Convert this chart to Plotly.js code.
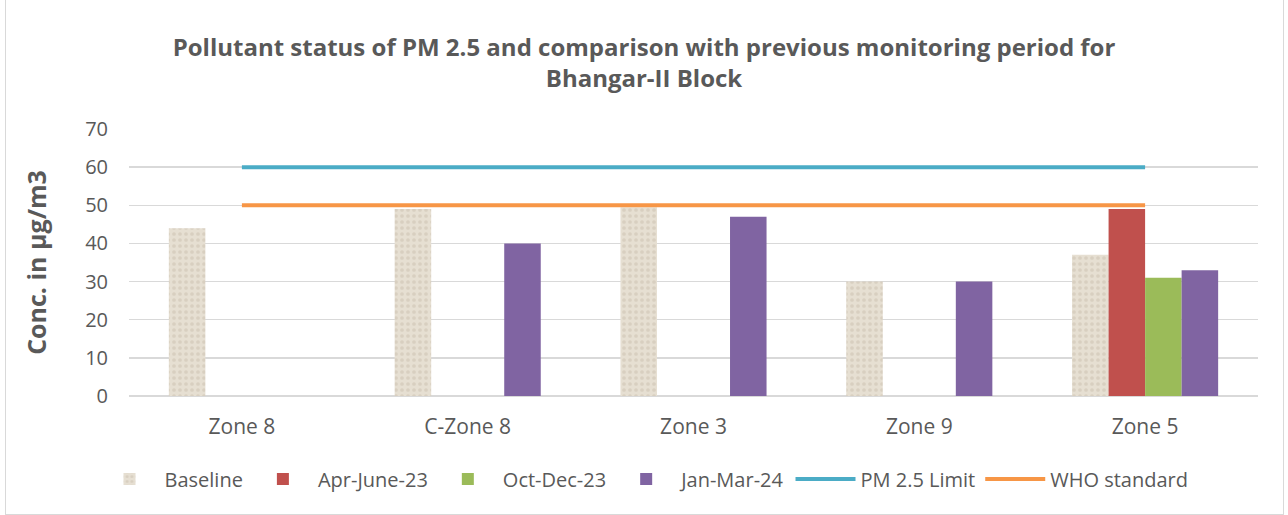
<!DOCTYPE html>
<html>
<head>
<meta charset="utf-8">
<script src="https://cdn.plot.ly/plotly-3.0.1.min.js"></script>
<style>
  html, body { margin: 0; padding: 0; background: #fff; }
  #wrap { position: relative; width: 1288px; height: 515px; }
  #chart { width: 1288px; height: 515px; }
  #frame { position: absolute; left: 5px; top: -2px; width: 1279px; height: 517px; border: 1.5px solid #d9d9d9; pointer-events: none; box-sizing: border-box; }
</style>
</head>
<body>
<div id="wrap"><div id="chart"></div><div id="frame"></div></div>
<script>
const zones = ["Zone 8", "C-Zone 8", "Zone 3", "Zone 9", "Zone 5"];
const baseline = [44, 49, 49.5, 30, 37];
const aprJun23 = [null, null, null, null, 49];
const octDec23 = [null, null, null, null, 31];
const janMar24 = [null, 40, 47, 30, 33];
const pmLimit = [60, 60, 60, 60, 60];
const whoStandard = [50, 50, 50, 50, 50];
const yTicks = [0, 10, 20, 30, 40, 50, 60, 70];

const fontFam = "'Open Sans', Lato, sans-serif";
const grey = "#595959";

const traces = [
  { type: "bar", name: "Baseline", x: zones, y: baseline,
    marker: { color: "#e4dccf", pattern: { shape: ".", bgcolor: "#e6dfd2", fgcolor: "#d8cfc0", size: 6, solidity: 0.3 } } },
  { type: "bar", name: "Apr-June-23", x: zones, y: aprJun23, marker: { color: "#c0504d" } },
  { type: "bar", name: "Oct-Dec-23", x: zones, y: octDec23, marker: { color: "#9bbb59" } },
  { type: "bar", name: "Jan-Mar-24", x: zones, y: janMar24, marker: { color: "#8064a2" } },
  { type: "scatter", mode: "lines", name: "PM 2.5 Limit", x: zones, y: pmLimit,
    line: { color: "#4bacc6", width: 4 } },
  { type: "scatter", mode: "lines", name: "WHO standard", x: zones, y: whoStandard,
    line: { color: "#f79646", width: 4 } }
];

const layout = {
  width: 1288, height: 515,
  margin: { l: 129, r: 30, t: 129, b: 119 },
  paper_bgcolor: "#fff", plot_bgcolor: "#fff",
  font: { family: fontFam, color: grey, size: 20 },
  title: {
    text: "<b>Pollutant status of PM 2.5 and comparison with previous monitoring period for<br>Bhangar-II Block</b>",
    font: { family: fontFam, size: 24, color: grey },
    xref: "container", x: 0.5, xanchor: "center",
    yref: "container", y: 1 - 56 / 515, yanchor: "middle"
  },
  barmode: "group",
  bargap: 0.353,
  bargroupgap: 0,
  xaxis: {
    type: "category",
    showgrid: false, zeroline: false, showline: false,
    ticks: "", ticklabelstandoff: 16,
    tickfont: { family: fontFam, size: 21, color: grey }
  },
  yaxis: {
    range: [0, 70],
    tickvals: yTicks,
    showgrid: true, gridcolor: "#d9d9d9", gridwidth: 1.5,
    zeroline: true, zerolinecolor: "#d9d9d9", zerolinewidth: 1.5,
    showline: false, ticks: "", ticklabelstandoff: 20,
    tickfont: { family: fontFam, size: 20, color: grey },
    title: { text: "<b>Conc. in µg/m3</b>", font: { family: fontFam, size: 25, color: grey }, standoff: 31 }
  },
  legend: {
    orientation: "h",
    xref: "container", x: 0.5, xanchor: "center",
    yref: "container", y: 1 - 479 / 515, yanchor: "middle",
    font: { family: fontFam, size: 20, color: grey },
    itemwidth: 60,
    traceorder: "normal"
  },
  showlegend: true
};

Plotly.newPlot("chart", traces, layout, { displayModeBar: false, staticPlot: true });
</script>
</body>
</html>
